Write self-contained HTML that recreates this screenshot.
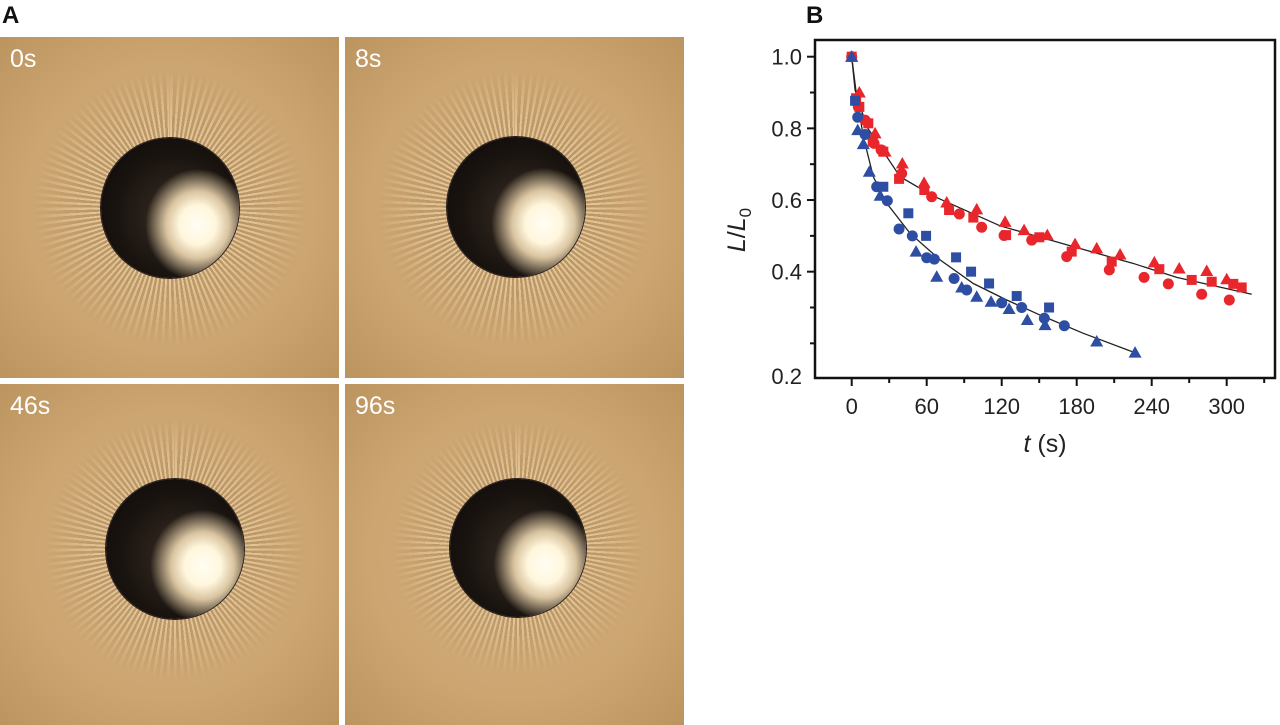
<!DOCTYPE html>
<html><head><meta charset="utf-8"><style>
body{margin:0;width:1280px;height:725px;background:#fff;position:relative;overflow:hidden;font-family:"Liberation Sans",Arial,sans-serif}
.lbl{position:absolute;font-weight:bold;font-size:24px;color:#111}
.photo{position:absolute;overflow:hidden;background:radial-gradient(circle at 50% 50%,#d4b07e 0%,#cca571 60%,#bb945f 100%)}
.rays{position:absolute;border-radius:50%;background:repeating-conic-gradient(rgba(255,238,200,.45) 0deg 1.4deg,rgba(130,95,55,.28) 1.4deg 3.2deg);
-webkit-mask:radial-gradient(circle closest-side,transparent 48%,#000 50%,rgba(0,0,0,.55) 72%,transparent 98%);mask:radial-gradient(circle closest-side,transparent 48%,#000 50%,rgba(0,0,0,.55) 72%,transparent 98%)}
.drop{position:absolute;border-radius:50%;background:radial-gradient(ellipse 38% 40% at 70% 62%,#fffef4 0%,#fff6dc 35%,#d9c4a0 60%,rgba(90,70,50,0) 100%),radial-gradient(circle at 55% 55%,#3a2e24 0%,#1a1410 55%,#0a0707 100%);box-shadow:0 0 0 1px #2a2020}
.t{position:absolute;left:10px;top:8px;color:#fff;font-size:25px}
</style></head><body>
<div class="lbl" style="left:2px;top:2px">A</div>
<div class="lbl" style="left:806px;top:2px">B</div>

<div class="photo" style="left:0;top:37px;width:339px;height:341px">
<div class="rays" style="left:30px;top:31px;width:280px;height:280px"></div>
<div class="drop" style="left:101px;top:101px;width:138px;height:140px"></div>
<div class="t">0s</div></div>
<div class="photo" style="left:345px;top:37px;width:339px;height:341px">
<div class="rays" style="left:30px;top:31px;width:280px;height:280px"></div>
<div class="drop" style="left:102px;top:100px;width:138px;height:140px"></div>
<div class="t">8s</div></div>
<div class="photo" style="left:0;top:384px;width:339px;height:341px">
<div class="rays" style="left:42px;top:32px;width:266px;height:266px"></div>
<div class="drop" style="left:106px;top:95px;width:138px;height:140px"></div>
<div class="t">46s</div></div>
<div class="photo" style="left:345px;top:384px;width:339px;height:341px">
<div class="rays" style="left:44px;top:34px;width:258px;height:258px"></div>
<div class="drop" style="left:105px;top:95px;width:136px;height:138px"></div>
<div class="t">96s</div></div>

<svg id="chart" width="1280" height="725" style="position:absolute;left:0;top:0" xmlns="http://www.w3.org/2000/svg"></svg>
<script>
const xTicks=[0,60,120,180,240,300];
const xMinor=[30,90,150,210,270,330];
const yTicks=[1.0,0.8,0.6,0.4];
const yMinor=[0.9,0.7,0.5,0.3,0.2];
const redTriT=[0,6.1,18.7,26.7,40.5,57.9,76,100,122.7,137.9,156.5,178.7,196,214.7,242.1,262,284,300];
const redTriV=[1,.9,.786,.735,.702,.648,.593,.574,.539,.516,.502,.477,.465,.448,.426,.409,.402,.379];
const redSqT=[0,3.5,6.1,13.3,16.8,25.3,37.9,58.1,77.9,97.3,123.5,150.1,176,208,246.1,272,288,305.3,312];
const redSqV=[1,.884,.86,.814,.763,.735,.659,.628,.572,.551,.502,.496,.456,.428,.407,.377,.372,.366,.356];
const redCirT=[0,5.3,10.7,17.9,23.5,40,64,86.1,104,121.9,144,172,206.1,233.9,253.3,280,302.1];
const redCirV=[1,.86,.823,.758,.74,.674,.609,.561,.524,.501,.488,.442,.405,.384,.366,.337,.321];
const blueTriT=[0,4.8,9.3,14.1,22.7,51.5,68,88,100,111.5,125.9,140.5,154.7,196,226.7];
const blueTriV=[1,.795,.756,.679,.612,.456,.386,.356,.33,.316,.296,.265,.251,.205,.174];
const blueCirT=[4.8,10.7,20,28.5,37.9,48.5,60,66.1,81.9,92,120,136,154.1,170.1];
const blueCirV=[.831,.783,.637,.598,.519,.5,.439,.435,.381,.349,.313,.3,.27,.249];
const blueSqT=[2.7,25.3,45.3,59.5,83.5,95.5,109.9,132,157.9];
const blueSqV=[.877,.637,.563,.5,.44,.4,.367,.332,.3];
const redFitT=[0,2.7,12,28,38.7,65.3,118.7,172,225.3,260,320];
const redFitV=[1,.907,.805,.721,.665,.611,.528,.475,.423,.384,.337];
const blueFitT=[0,4,9.3,17.3,28,46.7,70.7,97.3,124,150.7,185.3,228];
const blueFitV=[1,.888,.777,.665,.591,.507,.433,.367,.321,.279,.228,.172];

const svg=document.getElementById('chart');const NS='http://www.w3.org/2000/svg';
const L=815,R=1275,T=40,B=378;
const x=t=>851.7+1.25*t;
const y=v=>56.7+(1-v)*358.3;
function mk(tag,attrs,parent){const e=document.createElementNS(NS,tag);for(const k in attrs)e.setAttribute(k,attrs[k]);(parent||svg).appendChild(e);return e;}
const frame=mk('rect',{x:L,y:T,width:R-L,height:B-T,fill:'none',stroke:'#111','stroke-width':2.5});


xTicks.forEach(t=>{const ln=mk('line',{x1:x(t),x2:x(t),y1:B,y2:B+8,stroke:'#111','stroke-width':2});


const tx=mk('text',{x:x(t),y:B+36,'text-anchor':'middle','font-size':22,fill:'#222'});tx.textContent=t;

});
xMinor.forEach(t=>{const ln=mk('line',{x1:x(t),x2:x(t),y1:B,y2:B+5,stroke:'#111','stroke-width':2});

});
yTicks.forEach(v=>{const ln=mk('line',{x1:L-8,x2:L,y1:y(v),y2:y(v),stroke:'#111','stroke-width':2});


const tx=mk('text',{x:L-13,y:y(v)+8,'text-anchor':'end','font-size':22,fill:'#222'});tx.textContent=v.toFixed(1);

});
yMinor.forEach(v=>{const ln=mk('line',{x1:L-5,x2:L,y1:y(v),y2:y(v),stroke:'#111','stroke-width':2});

});
const bl=mk('text',{x:L-13,y:B+6,'text-anchor':'end','font-size':22,fill:'#222'});bl.textContent='0.2';


const xt=mk('text',{x:1045,y:452,'text-anchor':'middle','font-size':25,fill:'#222'});xt.innerHTML='<tspan font-style="italic">t</tspan> (s)';


const yt=mk('text',{x:0,y:0,'text-anchor':'middle','font-size':25,fill:'#222',transform:'translate(745,230) rotate(-90)'});yt.innerHTML='<tspan font-style="italic">L</tspan>/<tspan font-style="italic">L</tspan><tspan font-size="17" dy="6">0</tspan>';


function fit(ts,vs,name){const p=mk('polyline',{points:ts.map((t,i)=>x(t)+','+y(vs[i])).join(' '),fill:'none',stroke:'#222','stroke-width':1.3});

}
fit(redFitT,redFitV,'red-fit-line');fit(blueFitT,blueFitV,'blue-fit-line');
function pts(ts,vs,shape,col,name){ts.forEach((t,i)=>{const cx=x(t),cy=y(vs[i]);let e;
if(shape==='tri')e=mk('polygon',{points:`${cx},${cy-6.5} ${cx-6.5},${cy+5} ${cx+6.5},${cy+5}`,fill:col});
else if(shape==='sq')e=mk('rect',{x:cx-5,y:cy-5,width:10,height:10,fill:col});
else e=mk('circle',{cx:cx,cy:cy,r:5.5,fill:col});

});}
const RED='#e8262b',BLUE='#2e4ea3';
pts(redCirT,redCirV,'cir',RED,'red-circle-point');pts(redSqT,redSqV,'sq',RED,'red-square-point');pts(redTriT,redTriV,'tri',RED,'red-triangle-point');
pts(blueCirT,blueCirV,'cir',BLUE,'blue-circle-point');pts(blueSqT,blueSqV,'sq',BLUE,'blue-square-point');pts(blueTriT,blueTriV,'tri',BLUE,'blue-triangle-point');
</script>
</body></html>
